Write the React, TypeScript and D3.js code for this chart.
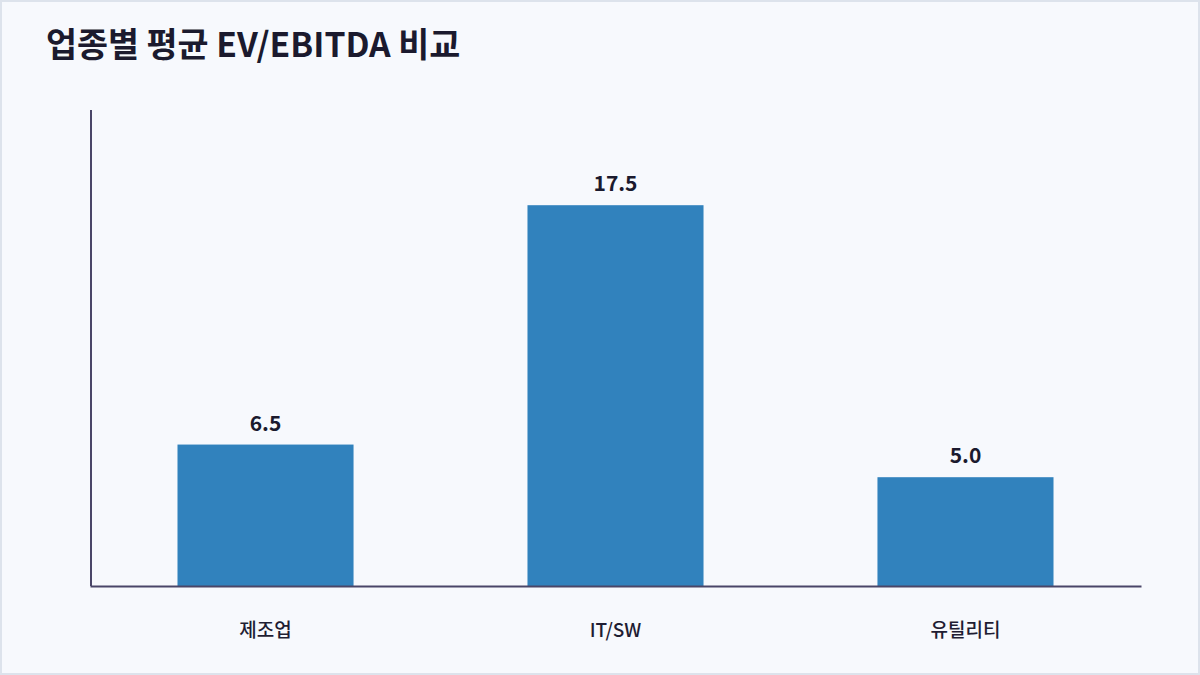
import { useEffect, useRef } from 'react';
import * as d3 from 'd3';

const categories = ['제조업', 'IT/SW', '유틸리티'];
const values = [6.5, 17.5, 5.0];
const title = '업종별 평균 EV/EBITDA 비교';

export default function App() {
  const svgRef = useRef<SVGSVGElement>(null);

  useEffect(() => {
    if (!svgRef.current) return;
    document.body.style.margin = '0';

    const svg = d3.select(svgRef.current);
    svg.selectAll('*').remove();

    const W = 1200;
    const H = 675;
    const margin = { top: 110, right: 59, bottom: 89, left: 91 };
    const width = W - margin.left - margin.right;
    const height = H - margin.top - margin.bottom;
    const font = "'Noto Sans CJK KR', 'Noto Sans', sans-serif";

    svg.attr('width', W).attr('height', H);

    // background + frame
    svg.append('rect')
      .attr('x', 1).attr('y', 1)
      .attr('width', W - 2).attr('height', H - 2)
      .attr('fill', '#f7f9fd')
      .attr('stroke', '#dde3ec')
      .attr('stroke-width', 2);

    svg.append('text')
      .attr('x', 46)
      .attr('y', 57)
      .style('font-family', font)
      .style('font-size', '33.7px')
      .style('font-weight', 700)
      .style('fill', '#1b1a2e')
      .text(title);

    const g = svg.append('g').attr('transform', `translate(${margin.left},${margin.top})`);

    const x = d3.scaleBand<string>()
      .domain(categories)
      .range([-1, width])
      .paddingInner(0.497)
      .paddingOuter(0.25);

    const y = d3.scaleLinear()
      .domain([0, (d3.max(values) || 0) * 1.25])
      .range([height, 0]);

    const data = categories.map((c, i) => ({ c, v: values[i] }));

    g.selectAll('.bar')
      .data(data)
      .enter().append('rect')
      .attr('class', 'bar')
      .attr('x', d => x(d.c) || 0)
      .attr('y', d => y(d.v))
      .attr('width', x.bandwidth())
      .attr('height', d => height - y(d.v))
      .attr('fill', '#3182bd');

    g.selectAll('.val')
      .data(data)
      .enter().append('text')
      .attr('class', 'val')
      .attr('x', d => (x(d.c) || 0) + x.bandwidth() / 2)
      .attr('y', d => y(d.v) - 14)
      .attr('text-anchor', 'middle')
      .style('font-family', font)
      .style('font-size', '21px')
      .style('font-weight', 700)
      .style('fill', '#1b1a2e')
      .text(d => d.v.toFixed(1));

    // axes
    const axisColor = '#4a4668';
    g.append('line')
      .attr('x1', 0).attr('x2', 0)
      .attr('y1', 0).attr('y2', height)
      .attr('stroke', axisColor)
      .attr('stroke-width', 2);

    const xAxis = g.append('g')
      .attr('transform', `translate(0,${height})`)
      .call(d3.axisBottom(x).tickSize(0).tickPadding(38) as any);
    xAxis.select('.domain')
      .attr('stroke', axisColor)
      .attr('stroke-width', 2);
    xAxis.selectAll('text')
      .style('font-family', font)
      .style('font-size', '19px')
      .style('font-weight', 500)
      .style('fill', '#1f1d33');
  }, []);

  return <svg ref={svgRef} style={{ display: 'block' }}></svg>;
}
